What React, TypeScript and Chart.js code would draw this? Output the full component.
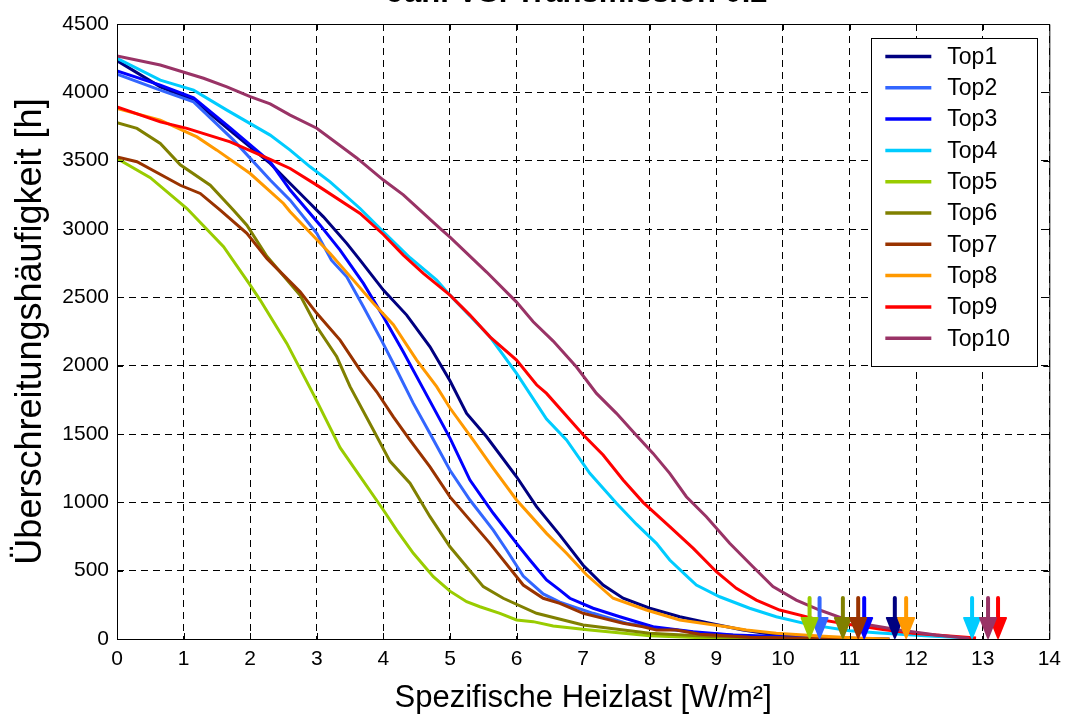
import React, { useEffect, useRef } from "react";
import { Chart, registerables } from "chart.js";

Chart.register(...registerables);

const FONT = "'Liberation Sans', Arial, Helvetica, sans-serif";

const chartTitle = "Jan. VS. Transmission 0.2";
const xAxisTitle = "Spezifische Heizlast [W/m²]";
const yAxisTitle = "Überschreitungshäufigkeit [h]";

const xMin = 0;
const xMax = 14;
const xStep = 1;
const yMin = 0;
const yMax = 4500;
const yStep = 500;

const seriesLabels = ["Top1", "Top2", "Top3", "Top4", "Top5", "Top6", "Top7", "Top8", "Top9", "Top10"];
const seriesColors = [
  "#000080", "#3366FF", "#0000FF", "#00CCFF", "#99CC00",
  "#808000", "#993300", "#FF9900", "#FF0000", "#993366",
];

type P = [number, number];

const top1: P[] = [
  [0, 4232], [0.65, 4040], [1.15, 3943], [1.75, 3700], [2.3, 3480], [2.6, 3333], [2.9, 3187], [3.1, 3089],
  [3.45, 2895], [3.65, 2772], [4.0, 2553], [4.35, 2370], [4.7, 2138], [5.0, 1890], [5.25, 1651], [5.55, 1480],
  [6.0, 1187], [6.3, 968], [6.65, 760], [7.0, 540], [7.3, 395], [7.6, 298], [8.0, 225], [8.45, 163],
  [8.9, 115], [9.4, 66], [9.9, 29], [10.4, 17], [11.0, 6], [11.6, 0],
];
const top2: P[] = [
  [0, 4133], [0.65, 4016], [1.15, 3930], [1.75, 3650], [2.3, 3358], [2.6, 3211], [3.0, 2968], [3.22, 2772],
  [3.45, 2650], [3.7, 2431], [3.97, 2187], [4.2, 1968], [4.45, 1724], [4.7, 1504], [5.0, 1235], [5.3, 1017],
  [5.65, 797], [5.85, 651], [6.1, 460], [6.4, 330], [6.65, 270], [7.15, 188], [7.65, 115], [8.15, 78],
  [8.8, 42], [9.65, 17], [10.5, 0],
];
const top3: P[] = [
  [0, 4157], [0.65, 4053], [1.15, 3960], [1.7, 3740], [2.3, 3492], [2.6, 3285], [3.05, 3028], [3.35, 2845],
  [3.7, 2602], [4.0, 2358], [4.3, 2100], [4.6, 1830], [5.0, 1470], [5.3, 1163], [5.65, 920], [6.0, 700],
  [6.2, 578], [6.45, 432], [6.65, 358], [6.8, 298], [7.15, 225], [7.55, 163], [8.05, 90], [8.65, 53],
  [9.25, 29], [10.05, 17], [10.6, 6], [11.2, 0],
];
const top4: P[] = [
  [0, 4248], [0.65, 4089], [1.15, 4016], [1.65, 3870], [2.3, 3687], [2.6, 3577], [2.9, 3455], [3.2, 3345],
  [3.65, 3150], [4.0, 2980], [4.4, 2790], [4.8, 2626], [5.0, 2516], [5.6, 2211], [6.0, 1944], [6.45, 1610],
  [6.75, 1456], [7.1, 1212], [7.5, 993], [7.8, 840], [8.1, 700], [8.3, 578], [8.6, 440], [8.7, 395],
  [9.05, 309], [9.5, 225], [9.9, 163], [10.4, 105], [11.0, 61], [11.45, 44], [12.2, 22], [12.75, 8],
];
const top5: P[] = [
  [0, 3516], [0.5, 3376], [1.05, 3150], [1.6, 2870], [2.0, 2590], [2.15, 2480], [2.55, 2163], [2.95, 1790],
  [3.35, 1400], [4.0, 944], [4.2, 797], [4.45, 627], [4.75, 456], [5.0, 350], [5.25, 273], [5.45, 236],
  [5.75, 188], [6.0, 139], [6.25, 127], [6.55, 95], [7.1, 66], [8.0, 24], [9.0, 5], [10.4, 0],
];
const top6: P[] = [
  [0, 3777], [0.3, 3736], [0.65, 3626], [0.95, 3470], [1.4, 3320], [1.75, 3138], [1.95, 3028], [2.25, 2800],
  [2.75, 2515], [3.0, 2285], [3.3, 2065], [3.5, 1846], [3.85, 1529], [4.1, 1300], [4.4, 1140], [4.7, 895],
  [5.0, 675], [5.5, 383], [5.8, 298], [6.3, 188], [7.0, 102], [8.0, 42], [9.0, 17], [10.0, 5], [10.9, 0],
];
const top7: P[] = [
  [0, 3528], [0.3, 3492], [0.95, 3320], [1.25, 3260], [1.55, 3138], [1.95, 2968], [2.25, 2785], [2.75, 2540],
  [3.0, 2383], [3.35, 2187], [3.65, 1968], [3.9, 1809], [4.15, 1626], [4.4, 1456], [4.7, 1260], [5.0, 1040],
  [5.6, 700], [6.1, 395], [6.4, 298], [6.65, 261], [7.0, 188], [7.3, 151], [7.6, 115], [7.9, 90],
  [8.1, 66], [8.4, 66], [8.75, 35], [9.5, 12], [10.3, 5], [11.1, 0],
];
const top8: P[] = [
  [0, 3882], [0.65, 3797], [1.2, 3674], [1.5, 3577], [2.0, 3406], [2.5, 3187], [2.6, 3126], [3.2, 2821],
  [3.55, 2626], [3.85, 2456], [4.15, 2300], [4.5, 2041], [4.8, 1846], [5.0, 1690], [5.35, 1456], [5.65, 1249],
  [6.0, 1017], [6.45, 773], [6.75, 627], [7.05, 470], [7.45, 298], [7.95, 212], [8.45, 139], [9.15, 90],
  [9.45, 66], [9.9, 42], [10.55, 22], [11.1, 8], [11.6, 0],
];
const top9: P[] = [
  [0, 3894], [0.65, 3784], [1.05, 3736], [1.7, 3638], [2.3, 3509], [2.6, 3443], [3.0, 3321], [3.65, 3114],
  [4.0, 2960], [4.3, 2809], [4.6, 2675], [5.0, 2516], [5.3, 2370], [5.6, 2211], [6.0, 2041], [6.3, 1860],
  [6.45, 1797], [7.0, 1495], [7.3, 1346], [7.6, 1163], [7.9, 1000], [8.3, 822], [8.65, 665], [9.0, 492],
  [9.3, 371], [9.6, 285], [9.95, 212], [10.45, 151], [10.95, 110], [11.5, 70], [11.95, 42], [12.4, 25], [12.9, 8],
];
const top10: P[] = [
  [0, 4266], [0.65, 4200], [1.3, 4103], [1.65, 4040], [2.0, 3969], [2.3, 3915], [2.6, 3833], [3.0, 3737],
  [3.6, 3520], [4.0, 3358], [4.3, 3250], [4.85, 3004], [5.0, 2940], [5.55, 2685], [6.0, 2465], [6.25, 2321],
  [6.55, 2180], [6.9, 1990], [7.2, 1797], [7.5, 1651], [7.75, 1516], [8.05, 1358], [8.3, 1212], [8.55, 1041],
  [8.85, 895], [9.2, 700], [9.55, 529], [9.85, 383], [10.2, 285], [10.55, 212], [10.9, 151], [11.3, 102],
  [11.75, 66], [12.3, 30], [12.8, 4],
];

const seriesData: P[][] = [top1, top2, top3, top4, top5, top6, top7, top8, top9, top10];

// Arrow markers (max heating load per series), drawn from arrowTopValue down to 0
const arrowX = [11.68, 10.55, 11.22, 12.84, 10.4, 10.9, 11.13, 11.85, 13.23, 13.08];
const arrowTopValue = 300;

const framePlugin = {
  id: "matlabFrame",
  afterDatasetsDraw(chart: any) {
    const { ctx, chartArea: a, scales } = chart;
    const xs = scales.x;
    const ys = scales.y;
    ctx.save();
    // arrows
    for (let i = 0; i < arrowX.length; i++) {
      const px = xs.getPixelForValue(arrowX[i]);
      const pTop = ys.getPixelForValue(arrowTopValue);
      const pBot = ys.getPixelForValue(0);
      const headH = 21;
      const headW = 8;
      ctx.strokeStyle = seriesColors[i];
      ctx.fillStyle = seriesColors[i];
      ctx.lineWidth = 4;
      ctx.lineCap = "round";
      ctx.beginPath();
      ctx.moveTo(px, pTop);
      ctx.lineTo(px, pBot - headH + 2);
      ctx.stroke();
      ctx.lineJoin = "round";
      ctx.lineWidth = 2;
      ctx.beginPath();
      ctx.moveTo(px - headW, pBot - headH);
      ctx.lineTo(px + headW, pBot - headH);
      ctx.lineTo(px, pBot - 1);
      ctx.closePath();
      ctx.fill();
      ctx.stroke();
    }
    // frame
    ctx.strokeStyle = "#000";
    ctx.lineWidth = 1;
    ctx.lineCap = "butt";
    ctx.setLineDash([]);
    ctx.strokeRect(a.left + 0.5, a.top + 0.5, a.right - a.left, a.bottom - a.top);
    const tl = 6;
    ctx.beginPath();
    xs.ticks.forEach((t: any) => {
      const px = Math.round(xs.getPixelForValue(t.value)) + 0.5;
      ctx.moveTo(px, a.bottom);
      ctx.lineTo(px, a.bottom - tl);
      ctx.moveTo(px, a.top);
      ctx.lineTo(px, a.top + tl);
    });
    ys.ticks.forEach((t: any) => {
      const py = Math.round(ys.getPixelForValue(t.value)) + 0.5;
      ctx.moveTo(a.left, py);
      ctx.lineTo(a.left + tl, py);
      ctx.moveTo(a.right, py);
      ctx.lineTo(a.right - tl, py);
    });
    ctx.stroke();
    ctx.restore();
  },
  afterDraw(chart: any) {
    const { ctx, chartArea: a } = chart;
    ctx.save();
    // title (partly outside the canvas top, as in the reference)
    ctx.fillStyle = "#000";
    ctx.font = `bold 31px ${FONT}`;
    ctx.textAlign = "center";
    ctx.textBaseline = "alphabetic";
    ctx.fillText(chartTitle, (a.left + a.right) / 2 - 6, 2);
    // legend box
    const boxRight = a.right - 12;
    const boxTop = a.top + 14;
    const boxW = 166;
    const rowH = 31.3;
    const n = seriesLabels.length;
    const boxH = 328;
    const boxLeft = boxRight - boxW;
    ctx.fillStyle = "#fff";
    ctx.fillRect(boxLeft, boxTop, boxW, boxH);
    ctx.strokeStyle = "#000";
    ctx.lineWidth = 1;
    ctx.strokeRect(Math.round(boxLeft) + 0.5, Math.round(boxTop) + 0.5, boxW, boxH);
    ctx.font = `23px ${FONT}`;
    ctx.textAlign = "left";
    ctx.textBaseline = "middle";
    for (let i = 0; i < n; i++) {
      const cy = boxTop + 18.5 + i * rowH;
      ctx.strokeStyle = seriesColors[i];
      ctx.lineWidth = 3.5;
      ctx.beginPath();
      ctx.moveTo(boxLeft + 14, cy);
      ctx.lineTo(boxLeft + 60, cy);
      ctx.stroke();
      ctx.fillStyle = "#000";
      ctx.fillText(seriesLabels[i], boxLeft + 76, cy + 1);
    }
    ctx.restore();
  },
};

export default function App() {
  const ref = useRef<HTMLCanvasElement | null>(null);

  useEffect(() => {
    if (!ref.current) return;
    const datasets = seriesData.map((d, i) => ({
      label: seriesLabels[i],
      data: d.map(([x, y]) => ({ x, y })),
      borderColor: seriesColors[i],
      backgroundColor: seriesColors[i],
      borderWidth: 3,
      pointRadius: 0,
      tension: 0,
      fill: false,
      order: seriesData.length - i,
    }));
    const chart = new Chart(ref.current, {
      type: "line",
      data: { datasets },
      options: {
        animation: false,
        responsive: false,
        maintainAspectRatio: false,
        layout: { padding: { top: 24, right: 17, left: 0, bottom: 0 } },
        plugins: {
          legend: { display: false },
          tooltip: { enabled: false },
          title: { display: false },
        },
        scales: {
          x: {
            type: "linear",
            min: xMin,
            max: xMax,
            ticks: {
              stepSize: xStep,
              color: "#000",
              font: { family: FONT, size: 21 },
              padding: 8,
              maxRotation: 0,
              callback: (v: any) => String(v),
            },
            grid: { color: "#000", lineWidth: 1, drawTicks: false },
            border: { display: false, dash: [7, 5] },
            title: {
              display: true,
              text: xAxisTitle,
              color: "#000",
              font: { family: FONT, size: 31 },
              padding: { top: 0, bottom: 5 },
            },
            afterFit(scale: any) {
              scale.height = 83;
            },
          },
          y: {
            type: "linear",
            min: yMin,
            max: yMax,
            ticks: {
              stepSize: yStep,
              color: "#000",
              font: { family: FONT, size: 21 },
              padding: 8,
              callback: (v: any) => String(v),
            },
            grid: { color: "#000", lineWidth: 1, drawTicks: false },
            border: { display: false, dash: [7, 5] },
            title: {
              display: true,
              text: yAxisTitle,
              color: "#000",
              font: { family: FONT, size: 36 },
              padding: { top: 9, bottom: 0 },
            },
            afterFit(scale: any) {
              scale.width = 117;
            },
          },
        },
      },
      plugins: [framePlugin],
    });
    return () => chart.destroy();
  }, []);

  return (
    <div style={{ position: "fixed", left: 0, top: 0, width: 1069, height: 722, background: "#fff" }}>
      <canvas ref={ref} width={1069} height={722} style={{ display: "block" }} />
    </div>
  );
}
